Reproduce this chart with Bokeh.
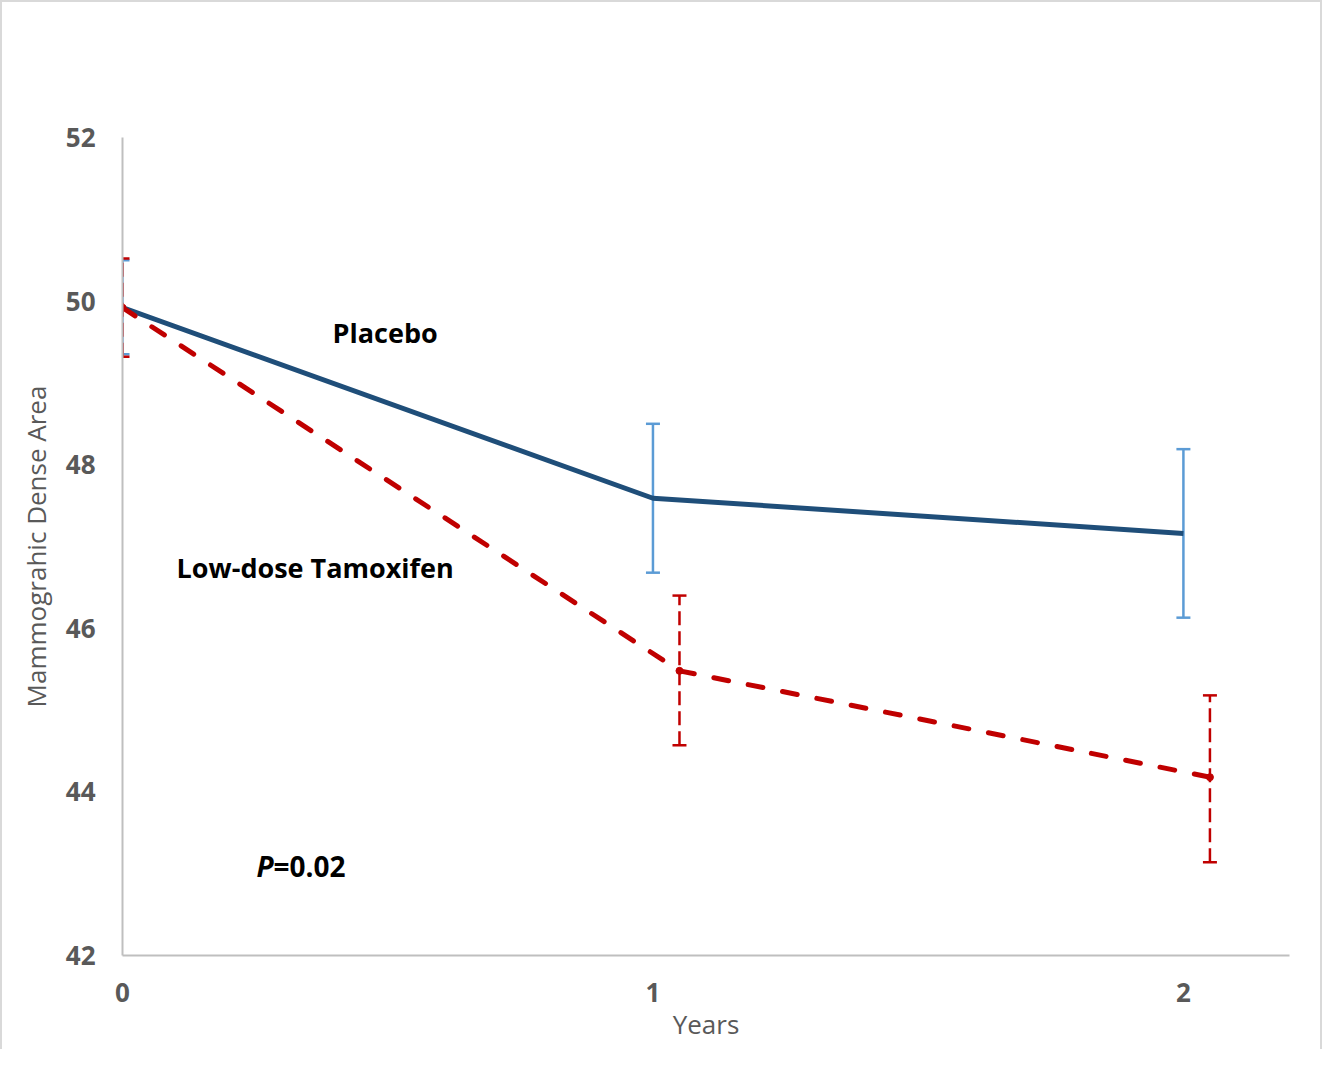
from bokeh.plotting import figure
from bokeh.models import ColumnDataSource, Whisker, TeeHead, FixedTicker, Range1d
from bokeh.core.properties import value
from bokeh.embed import file_html
from bokeh.resources import INLINE

# ---- data ----
years = [0, 1, 2]
tick_labels = {0: "0", 1: "1", 2: "2"}
placebo_x = [0, 1, 2]
placebo_mean = [49.92, 47.59, 47.16]
placebo_upper = [50.50, 48.50, 48.19]
placebo_lower = [49.35, 46.68, 46.13]

tamox_x = [0, 1.05, 2.05]
tamox_mean = [49.92, 45.48, 44.18]
tamox_upper = [50.52, 46.40, 45.18]
tamox_lower = [49.32, 44.57, 43.14]

y_ticks = [42, 44, 46, 48, 50, 52]

FONT = "Open Sans"
GRAY = "#595959"
AXIS_GRAY = "#bfbfbf"
BLUE = "#1f4e79"
LIGHT_BLUE = "#5b9bd5"
RED = "#c00000"

p = figure(width=1322, height=1049, output_backend="svg", toolbar_location=None,
           x_range=Range1d(0, 2.2), y_range=Range1d(42, 52),
           min_border_left=120, min_border_right=35, min_border_top=135, min_border_bottom=96)
p.styles = {"border-top": "2px solid #d9d9d9", "border-left": "2px solid #d9d9d9",
            "border-right": "2px solid #d9d9d9"}
p.outline_line_color = None
p.xgrid.visible = False
p.ygrid.visible = False
p.background_fill_color = "white"

for ax in (p.xaxis[0], p.yaxis[0]):
    ax.axis_line_color = AXIS_GRAY
    ax.axis_line_width = 2
    ax.major_tick_line_color = None
    ax.minor_tick_line_color = None
    ax.major_label_text_font = FONT
    ax.major_label_text_font_style = "bold"
    ax.major_label_text_font_size = "26px"
    ax.major_label_text_color = GRAY
    ax.axis_label_text_font = FONT
    ax.axis_label_text_font_style = "normal"
    ax.axis_label_text_font_size = "26px"
    ax.axis_label_text_color = GRAY

p.xaxis.ticker = FixedTicker(ticks=years)
p.xaxis.major_label_overrides = tick_labels
p.xaxis.axis_label = "Years"
p.xaxis.major_label_standoff = 21
p.xaxis.axis_label_standoff = 1
p.yaxis.ticker = FixedTicker(ticks=y_ticks)
p.yaxis.axis_label = "Mammograhic Dense Area"
p.yaxis.major_label_standoff = 21
p.yaxis.axis_label_standoff = 9

# error bars
psrc = ColumnDataSource(dict(x=placebo_x, y=placebo_mean, upper=placebo_upper, lower=placebo_lower))
tsrc = ColumnDataSource(dict(x=tamox_x, y=tamox_mean, upper=tamox_upper, lower=tamox_lower))

pw = Whisker(base="x", upper="upper", lower="lower", source=psrc,
             line_color=LIGHT_BLUE, line_width=2.5,
             upper_head=TeeHead(size=14, line_color=LIGHT_BLUE, line_width=2.5),
             lower_head=TeeHead(size=14, line_color=LIGHT_BLUE, line_width=2.5))
p.add_layout(pw)

p.line("x", "y", source=psrc, line_color=BLUE, line_width=5)

tw = Whisker(base="x", upper="upper", lower="lower", source=tsrc,
             line_color=RED, line_width=2.5, line_dash="14 6",
             upper_head=TeeHead(size=14, line_color=RED, line_width=2.5),
             lower_head=TeeHead(size=14, line_color=RED, line_width=2.5))
p.add_layout(tw)

p.line("x", "y", source=tsrc, line_color=RED, line_width=5, line_dash="15 20", line_cap="round")
p.scatter("x", "y", source=tsrc, size=7, fill_color=RED, line_color=RED)

# annotations
p.text(x=[0.396], y=[49.62], text=["Placebo"], text_font=value(FONT), text_font_style="bold",
       text_font_size="27px", text_color="black", text_baseline="middle", text_align="left")
p.text(x=[0.102], y=[46.74], text=["Low-dose Tamoxifen"], text_font=value(FONT), text_font_style="bold",
       text_font_size="27px", text_color="black", text_baseline="middle", text_align="left")
p.text(x=[0.2526], y=[43.09], text=["P"], text_font=value(FONT), text_font_style="bold italic",
       text_font_size="28px", text_color="black", text_baseline="middle", text_align="left")
p.text(x=[0.2846], y=[43.09], text=["=0.02"], text_font=value(FONT), text_font_style="bold",
       text_font_size="28px", text_color="black", text_baseline="middle", text_align="left")

open("out.html", "w").write(file_html(p, INLINE))
